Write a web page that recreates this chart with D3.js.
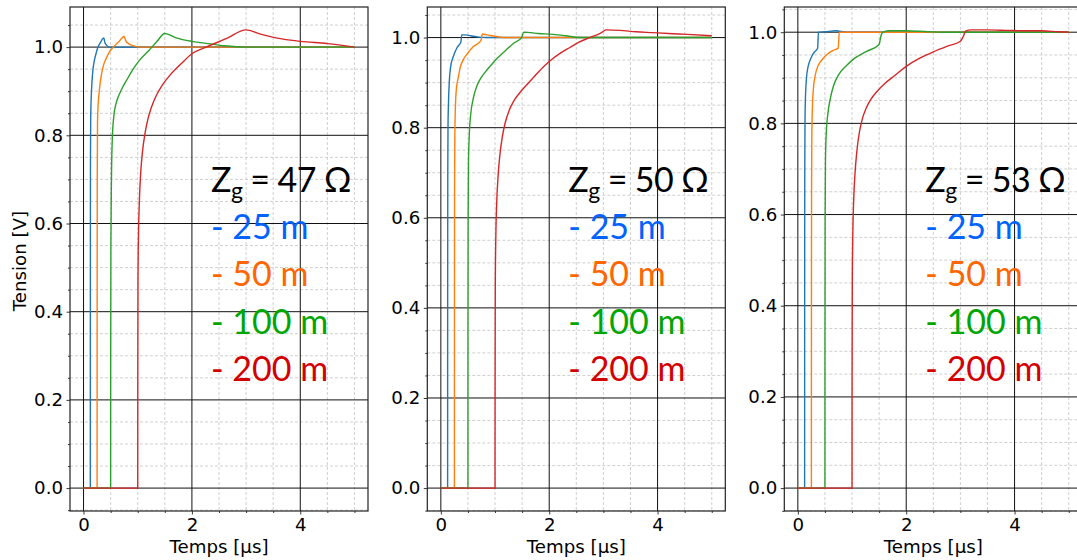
<!DOCTYPE html>
<html><head><meta charset="utf-8">
<script src="https://cdn.jsdelivr.net/npm/d3@7"></script>
<style>html,body{margin:0;padding:0;background:#fff;} svg{display:block;}</style>
</head><body><svg id="c" width="1077" height="560"></svg>
<script>
// ---------- data ----------
const impedances = [47, 50, 53];
const lengthLabels = ["25 m", "50 m", "100 m", "200 m"];
const xTickValues = [0, 2, 4];
const yTickValues = [0, 0.2, 0.4, 0.6, 0.8, 1.0];
const xLabel = "Temps [µs]";
const yLabel = "Tension [V]";
const lineColors = ["#1f77b4", "#ff7f0e", "#2ca02c", "#d62728"];
const textColors = ["#0062ff", "#ff6600", "#00a600", "#d40000"];

// Zg = 47 ohm : [time µs, voltage V]
const z47_25m = [[0,0],[0.125,0],[0.126,0.5],[0.128,0.75],[0.132,0.84],[0.14,0.88],[0.155,0.92],[0.175,0.95],[0.2,0.97],[0.23,0.985],[0.26,0.998],[0.31,1.01],[0.375,1.021],[0.39,1.012],[0.42,1.005],[0.48,1.0],[1,1.0],[2,1.0],[3,1.0],[4,1.0],[5,1.0]];
const z47_50m = [[0,0],[0.25,0],[0.251,0.4],[0.253,0.7],[0.258,0.83],[0.27,0.87],[0.29,0.9],[0.32,0.93],[0.36,0.955],[0.42,0.975],[0.48,0.99],[0.55,1.0],[0.65,1.012],[0.75,1.024],[0.78,1.014],[0.83,1.008],[0.9,1.004],[1.03,1.0],[2,1.0],[3,1.0],[4,1.0],[5,1.0]];
const z47_100m = [[0,0],[0.5,0],[0.501,0.3],[0.505,0.55],[0.515,0.7],[0.53,0.79],[0.56,0.845],[0.6,0.872],[0.66,0.893],[0.73,0.911],[0.8,0.926],[0.9,0.947],[1.03,0.97],[1.21,0.993],[1.35,1.012],[1.5,1.031],[1.71,1.021],[2.0,1.013],[2.3,1.008],[2.6,1.003],[3.0,1.0],[4,1.0],[5,1.0]];
const z47_200m = [[0,0],[1.0,0],[1.001,0.25],[1.005,0.47],[1.015,0.58],[1.03,0.65],[1.055,0.715],[1.09,0.765],[1.135,0.805],[1.19,0.838],[1.26,0.866],[1.35,0.892],[1.46,0.915],[1.6,0.937],[1.8,0.962],[2.0,0.985],[2.26,1.0],[2.63,1.019],[3.0,1.039],[3.25,1.03],[3.55,1.021],[4.0,1.013],[4.5,1.008],[5.0,1.0]];

// Zg = 50 ohm
const z50_25m = [[0,0],[0.125,0],[0.126,0.45],[0.128,0.7],[0.132,0.8],[0.14,0.85],[0.155,0.9],[0.18,0.935],[0.23,0.958],[0.3,0.978],[0.37,0.99],[0.385,1.006],[0.45,1.006],[0.55,1.004],[0.7,1.001],[0.85,1.0],[2,1.0],[3,1.0],[4,1.0],[5,1.0]];
const z50_50m = [[0,0],[0.25,0],[0.251,0.4],[0.253,0.65],[0.258,0.78],[0.27,0.85],[0.29,0.89],[0.32,0.91],[0.36,0.935],[0.41,0.95],[0.5,0.966],[0.6,0.98],[0.74,0.993],[0.765,1.008],[0.85,1.006],[1.0,1.003],[1.15,1.0],[2,1.0],[3,1.0],[4,1.0],[5,1.0]];
const z50_100m = [[0,0],[0.5,0],[0.501,0.35],[0.504,0.6],[0.51,0.72],[0.525,0.785],[0.55,0.828],[0.6,0.866],[0.67,0.894],[0.75,0.912],[0.85,0.928],[0.95,0.942],[1.05,0.955],[1.2,0.972],[1.35,0.988],[1.49,1.0],[1.53,1.012],[1.8,1.009],[2.07,1.007],[2.3,1.004],[2.56,1.0],[3,1.0],[4,1.0],[5,1.0]];
const z50_200m = [[0,0],[1.0,0],[1.001,0.22],[1.005,0.45],[1.015,0.56],[1.03,0.63],[1.055,0.69],[1.09,0.74],[1.135,0.78],[1.19,0.812],[1.26,0.838],[1.35,0.86],[1.46,0.878],[1.6,0.897],[1.75,0.917],[1.9,0.936],[2.05,0.952],[2.2,0.965],[2.38,0.978],[2.55,0.99],[2.75,1.0],[2.95,1.01],[3.05,1.017],[3.3,1.016],[3.6,1.013],[3.9,1.011],[4.2,1.009],[4.55,1.007],[5.0,1.004]];

// Zg = 53 ohm
const z53_25m = [[0,0],[0.125,0],[0.126,0.45],[0.128,0.7],[0.132,0.8],[0.14,0.855],[0.16,0.9],[0.19,0.925],[0.22,0.937],[0.27,0.95],[0.31,0.957],[0.365,0.965],[0.38,1.0],[0.5,1.001],[0.7,1.003],[0.9,1.0],[2,1.0],[3,1.0],[4,1.0],[5,1.0]];
const z53_50m = [[0,0],[0.25,0],[0.251,0.4],[0.253,0.65],[0.258,0.77],[0.27,0.84],[0.29,0.88],[0.32,0.905],[0.38,0.928],[0.45,0.94],[0.55,0.952],[0.65,0.96],[0.745,0.965],[0.765,1.0],[1,1.0],[2,1.0],[3,1.0],[4,1.0],[5,1.0]];
const z53_100m = [[0,0],[0.5,0],[0.501,0.35],[0.504,0.6],[0.51,0.72],[0.525,0.78],[0.555,0.822],[0.6,0.855],[0.66,0.883],[0.75,0.906],[0.9,0.927],[1.05,0.943],[1.27,0.958],[1.5,0.973],[1.53,0.99],[1.57,1.0],[1.7,1.003],[2.0,1.003],[2.4,1.001],[2.7,1.0],[4,1.0],[5,1.0]];
const z53_200m = [[0,0],[1.0,0],[1.001,0.22],[1.005,0.45],[1.015,0.56],[1.03,0.63],[1.055,0.69],[1.09,0.74],[1.135,0.78],[1.19,0.81],[1.26,0.833],[1.35,0.853],[1.46,0.87],[1.6,0.887],[1.8,0.906],[2.0,0.925],[2.25,0.943],[2.5,0.957],[2.75,0.969],[3.0,0.98],[3.05,0.99],[3.1,1.003],[3.2,1.005],[3.5,1.005],[3.85,1.004],[4.2,1.003],[4.5,1.003],[4.8,1.001],[5.0,1.0]];

const seriesByPanel = [
  [z47_25m, z47_50m, z47_100m, z47_200m],
  [z50_25m, z50_50m, z50_100m, z50_200m],
  [z53_25m, z53_50m, z53_100m, z53_200m]
];

// ---------- layout ----------
const panelLeft = [70, 427.3, 784.3];
const panelW = 298, plotTop = 7, plotBottom = 511;
const tickFont = "'DejaVu Sans', sans-serif";
const tickSize = "18.2px";
const annFont = "Lato, 'Open Sans', sans-serif";
const svg = d3.select("#c");

seriesByPanel.forEach((series, i) => {
  const all = series.flat();
  const xe = d3.extent(all, d => d[0]), ye = d3.extent(all, d => d[1]);
  const xp = (xe[1] - xe[0]) * 0.05, yp = (ye[1] - ye[0]) * 0.05;
  const L = panelLeft[i], R = L + panelW;
  const x = d3.scaleLinear().domain([xe[0] - xp, xe[1] + xp]).range([L, R]);
  const y = d3.scaleLinear().domain([ye[0] - yp, ye[1] + yp]).range([plotBottom, plotTop]);
  const g = svg.append("g");

  const xMinor = d3.range(-1, 12).map(k => k * 0.5).filter(v => v > x.domain()[0] && v < x.domain()[1] && Math.round(v * 2) % 4 !== 0);
  const yMinor = d3.range(-2, 23).map(k => k * 0.05).filter(v => v >= y.domain()[0] && v <= y.domain()[1] && Math.round(v * 20) % 4 !== 0);

  // minor grid
  g.append("g").selectAll("line").data(xMinor).join("line")
    .attr("x1", d => x(d)).attr("x2", d => x(d)).attr("y1", plotTop).attr("y2", plotBottom)
    .attr("stroke", "#c4c4c4").attr("stroke-width", 0.8).attr("stroke-dasharray", "3,2");
  g.append("g").selectAll("line").data(yMinor).join("line")
    .attr("y1", d => y(d)).attr("y2", d => y(d)).attr("x1", L).attr("x2", R)
    .attr("stroke", "#c4c4c4").attr("stroke-width", 0.8).attr("stroke-dasharray", "3,2");
  // major grid
  g.append("g").selectAll("line").data(xTickValues).join("line")
    .attr("x1", d => x(d)).attr("x2", d => x(d)).attr("y1", plotTop).attr("y2", plotBottom)
    .attr("stroke", "#111").attr("stroke-width", 1);
  g.append("g").selectAll("line").data(yTickValues).join("line")
    .attr("y1", d => y(d)).attr("y2", d => y(d)).attr("x1", L).attr("x2", R)
    .attr("stroke", "#111").attr("stroke-width", 1);

  // curves
  const line = d3.line().x(d => x(d[0])).y(d => y(d[1])).curve(d3.curveMonotoneX);
  series.forEach((s, j) => {
    g.append("path").datum(s).attr("d", line)
      .attr("fill", "none").attr("stroke", lineColors[j]).attr("stroke-width", 1.4)
      .attr("stroke-linejoin", "round");
  });

  // spines
  g.append("rect").attr("x", L).attr("y", plotTop).attr("width", panelW).attr("height", plotBottom - plotTop)
    .attr("fill", "none").attr("stroke", "#222").attr("stroke-width", 1.2);

  // axes
  const ax = g.append("g").attr("transform", `translate(0,${plotBottom})`)
    .call(d3.axisBottom(x).tickValues(xTickValues).tickFormat(d3.format("d")).tickSize(3.5).tickPadding(3.5));
  const axm = g.append("g").attr("transform", `translate(0,${plotBottom})`)
    .call(d3.axisBottom(x).tickValues(xMinor).tickFormat("").tickSize(2));
  const ay = g.append("g").attr("transform", `translate(${L},0)`)
    .call(d3.axisLeft(y).tickValues(yTickValues).tickFormat(d3.format(".1f")).tickSize(3.5).tickPadding(3.5));
  const aym = g.append("g").attr("transform", `translate(${L},0)`)
    .call(d3.axisLeft(y).tickValues(yMinor).tickFormat("").tickSize(2));
  [ax, axm, ay, aym].forEach(a => {
    a.select(".domain").remove();
    a.selectAll("line").attr("stroke", "#222").attr("stroke-width", 0.9);
    a.selectAll("text").attr("fill", "#000").style("font-family", tickFont).style("font-size", tickSize);
  });

  // axis labels
  g.append("text").attr("x", (L + R) / 2).attr("y", 553).attr("text-anchor", "middle")
    .style("font-family", tickFont).style("font-size", tickSize).text(xLabel);
  if (i === 0) {
    g.append("text").attr("transform", `translate(26,${(plotTop + plotBottom) / 2 + 2}) rotate(-90)`)
      .attr("text-anchor", "middle").style("font-family", tickFont).style("font-size", tickSize).text(yLabel);
  }

  // annotation
  const ax0 = L + 141;
  const t = g.append("text").attr("x", ax0).attr("y", 191.5)
    .style("font-family", annFont).style("font-size", "34px").style("white-space", "pre")
    .style("letter-spacing", "-0.6px").attr("fill", "#000");
  t.append("tspan").text("Z");
  t.append("tspan").attr("dy", 7).style("font-size", "23px").text("g");
  t.append("tspan").attr("dy", -7).text(" = " + impedances[i] + " Ω");
  const baselines = [238.5, 286, 333.5, 381];
  lengthLabels.forEach((lab, j) => {
    g.append("text").attr("x", ax0).attr("y", baselines[j])
      .style("font-family", annFont).style("font-size", "34px").style("white-space", "pre")
      .attr("fill", textColors[j]).text("- " + lab);
  });
});
</script>
</body></html>
